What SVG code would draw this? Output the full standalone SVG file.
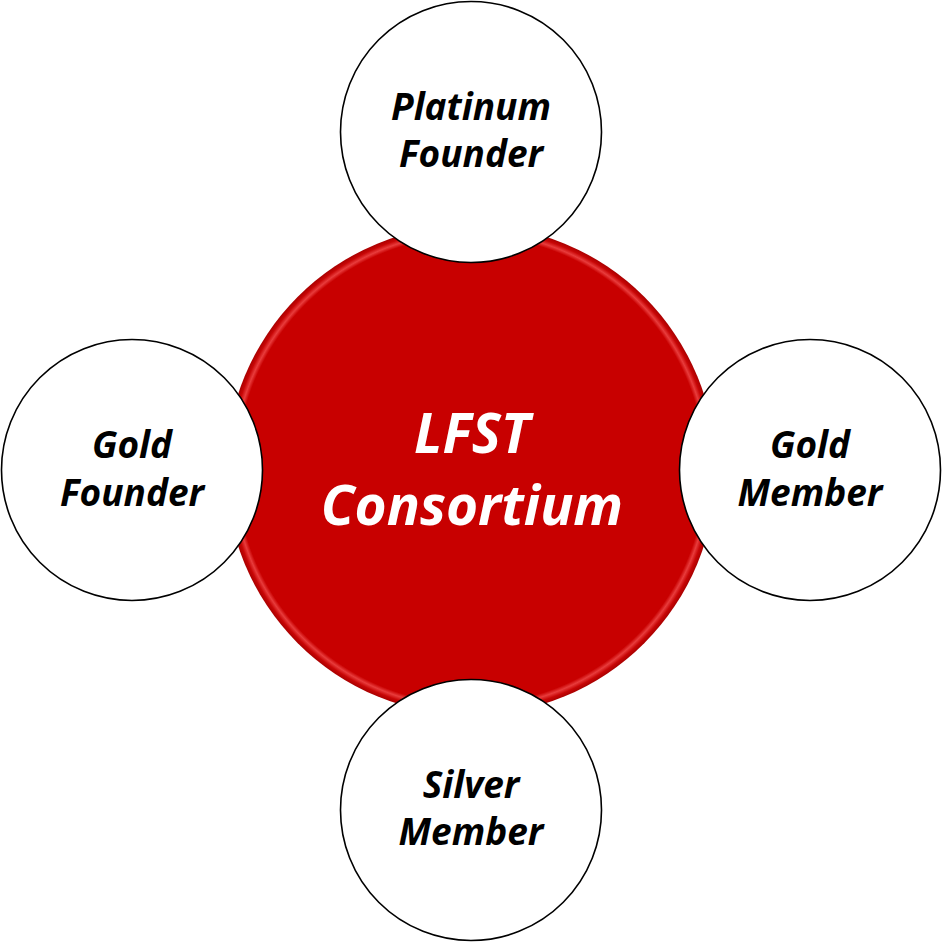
<svg xmlns="http://www.w3.org/2000/svg" width="942" height="942" viewBox="0 0 942 942">
<defs>
<style>
.sat{fill:#ffffff;stroke:#000000;stroke-width:1.6}
.lbl{font-family:"Open Sans","Noto Sans",sans-serif;font-weight:bold;font-style:italic;font-size:37px;fill:#000000;text-anchor:middle}
.ctr{font-family:"Open Sans","Noto Sans",sans-serif;font-weight:bold;font-style:italic;font-size:55px;fill:#ffffff;text-anchor:middle}
</style>
<radialGradient id="bevel" cx="0.5" cy="0.5" r="0.5">
<stop offset="0.955" stop-color="#c80000"/>
<stop offset="0.97" stop-color="#e83c3c"/>
<stop offset="0.985" stop-color="#c80606"/>
<stop offset="1" stop-color="#a80000"/>
</radialGradient>
</defs>
<g id="connectors"></g>
<g id="center">
<circle cx="471" cy="470" r="245" fill="url(#bevel)"/>
<text class="ctr" x="472" y="453">LFST</text>
<text class="ctr" x="472" y="525">Consortium</text>
</g>
<g id="platinum-founder">
<circle class="sat" cx="471" cy="132" r="130.5"/>
<text class="lbl" x="471" y="120">Platinum</text>
<text class="lbl" x="471" y="167">Founder</text>
</g>
<g id="gold-founder">
<circle class="sat" cx="132" cy="470" r="130.5"/>
<text class="lbl" x="132" y="458">Gold</text>
<text class="lbl" x="132" y="506">Founder</text>
</g>
<g id="gold-member">
<circle class="sat" cx="810" cy="470" r="130.5"/>
<text class="lbl" x="810" y="458">Gold</text>
<text class="lbl" x="810" y="506">Member</text>
</g>
<g id="silver-member">
<circle class="sat" cx="471" cy="810" r="130.5"/>
<text class="lbl" x="471" y="798">Silver</text>
<text class="lbl" x="471" y="845">Member</text>
</g>
</svg>
